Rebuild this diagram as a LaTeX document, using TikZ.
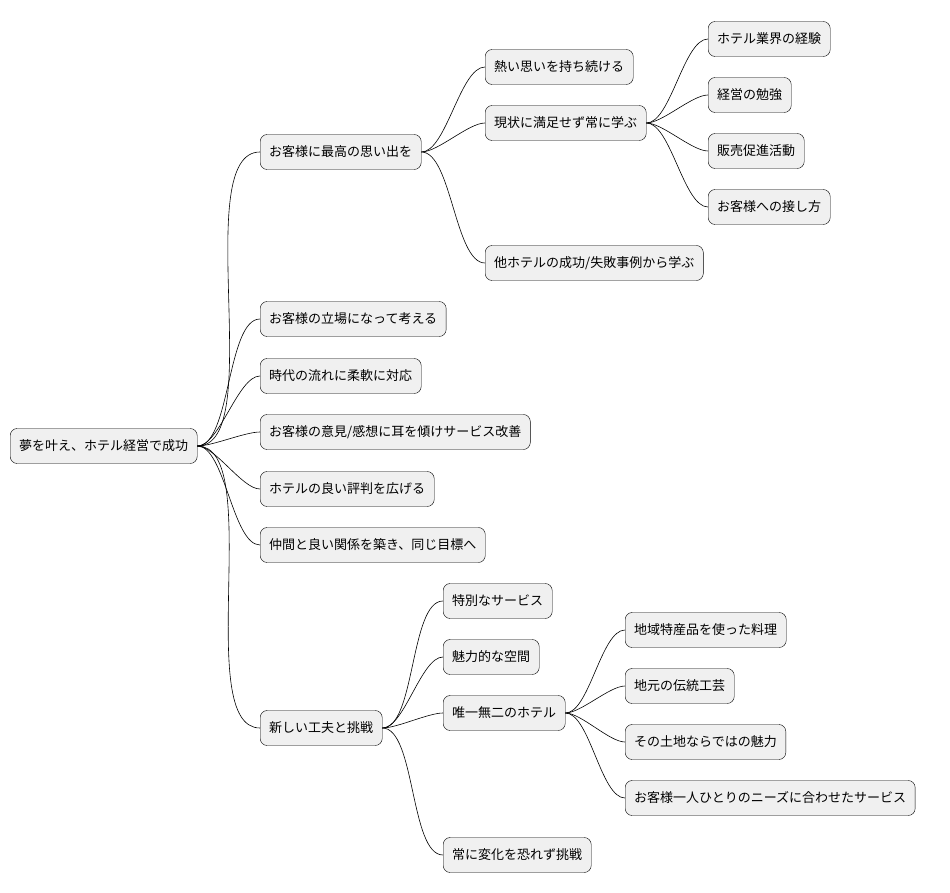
\documentclass[tikz,border=0pt]{standalone}
\usepackage{fontspec}
\setmainfont{Noto Sans CJK JP}
\usepackage{tikz}
\tikzset{
	topic/.style={shape=rectangle,rounded corners=7pt,draw=black,fill=black!6,anchor=west,minimum height=35pt,inner xsep=9pt,font=\fontsize{13pt}{15pt}\selectfont},
	branch/.style={draw=black,line width=0.6pt,out=0,in=180,looseness=0.6}
}
\begin{document}
\begin{tikzpicture}[x=1pt,y=-1pt]
	\useasboundingbox (0,0) rectangle (950,893);
	\node[topic] (root) at (10, 446)   {夢を叶え、ホテル経営で成功};
	\node[topic] (omoide) at (260, 152) {お客様に最高の思い出を};
	\node[topic] (tachiba) at (260, 319) {お客様の立場になって考える};
	\node[topic] (jidai) at (260, 376) {時代の流れに柔軟に対応};
	\node[topic] (iken) at (260, 432) {お客様の意見/感想に耳を傾けサービス改善};
	\node[topic] (hyoban) at (260, 489) {ホテルの良い評判を広げる};
	\node[topic] (nakama) at (260, 545) {仲間と良い関係を築き、同じ目標へ};
	\node[topic] (kufu) at (260, 728) {新しい工夫と挑戦};

	\node[topic] (atsui) at (485, 67)  {熱い思いを持ち続ける};
	\node[topic] (manabu) at (485, 123) {現状に満足せず常に学ぶ};
	\node[topic] (jirei) at (485, 263) {他ホテルの成功/失敗事例から学ぶ};

	\node[topic] (keiken) at (708, 39)  {ホテル業界の経験};
	\node[topic] (benkyo) at (708, 95)  {経営の勉強};
	\node[topic] (hanbai) at (708, 151) {販売促進活動};
	\node[topic] (sesshi) at (708, 207) {お客様への接し方};

	\node[topic] (tokubetsu) at (443, 601) {特別なサービス};
	\node[topic] (kukan) at (443, 657) {魅力的な空間};
	\node[topic] (yuiitsu) at (443, 713) {唯一無二のホテル};
	\node[topic] (chosen) at (443, 855) {常に変化を恐れず挑戦};

	\node[topic] (ryori) at (625, 630) {地域特産品を使った料理};
	\node[topic] (kogei) at (625, 686) {地元の伝統工芸};
	\node[topic] (miryoku) at (625, 742) {その土地ならではの魅力};
	\node[topic] (needs) at (625, 798) {お客様一人ひとりのニーズに合わせたサービス};

	\foreach \c in {omoide,tachiba,jidai,iken,hyoban,nakama,kufu}
		\path (root.east) edge[branch] (\c.west);
	\foreach \c in {atsui,manabu,jirei}
		\path (omoide.east) edge[branch] (\c.west);
	\foreach \c in {keiken,benkyo,hanbai,sesshi}
		\path (manabu.east) edge[branch] (\c.west);
	\foreach \c in {tokubetsu,kukan,yuiitsu,chosen}
		\path (kufu.east) edge[branch] (\c.west);
	\foreach \c in {ryori,kogei,miryoku,needs}
		\path (yuiitsu.east) edge[branch] (\c.west);
\end{tikzpicture}
\end{document}
